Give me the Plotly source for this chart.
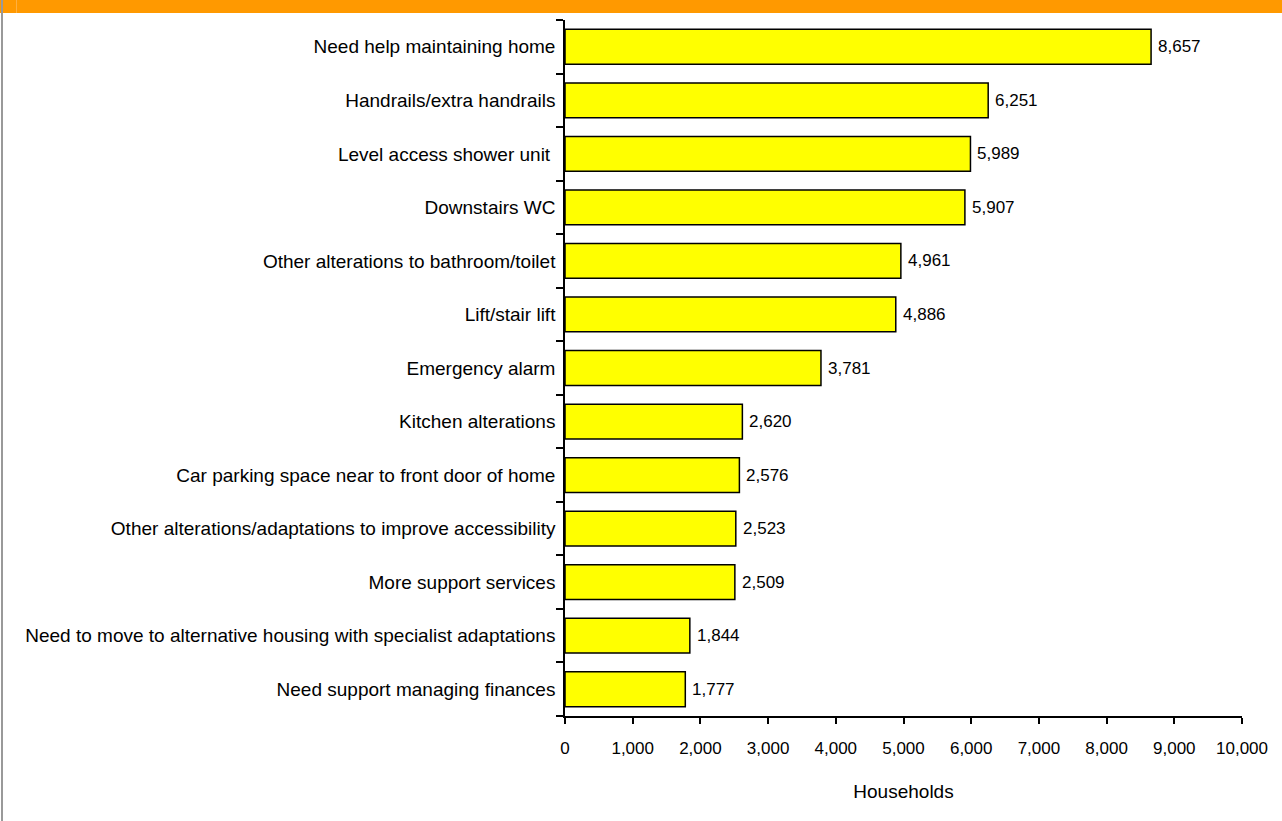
import plotly.graph_objects as go

categories = [
    "Need help maintaining home",
    "Handrails/extra handrails",
    "Level access shower unit ",
    "Downstairs WC",
    "Other alterations to bathroom/toilet",
    "Lift/stair lift",
    "Emergency alarm",
    "Kitchen alterations",
    "Car parking space near to front door of home",
    "Other alterations/adaptations to improve accessibility",
    "More support services",
    "Need to move to alternative housing with specialist adaptations",
    "Need support managing finances",
]
values = [8657, 6251, 5989, 5907, 4961, 4886, 3781, 2620, 2576, 2523, 2509, 1844, 1777]
x_ticks = [0, 1000, 2000, 3000, 4000, 5000, 6000, 7000, 8000, 9000, 10000]
x_tick_labels = [f"{v:,}" for v in x_ticks]

FONT = "Liberation Sans, Arial, sans-serif"

fig = go.Figure(
    go.Bar(
        y=categories,
        x=values,
        orientation="h",
        width=0.65,
        marker=dict(color="#FFFF00", line=dict(color="black", width=1.5)),
        hoverinfo="x+y",
    )
)

# value labels next to the bar ends
for c, v in zip(categories, values):
    fig.add_annotation(
        x=v, y=c, xref="x", yref="y",
        text=f"{v:,}", showarrow=False,
        xanchor="left", yanchor="middle", xshift=5,
        font=dict(family=FONT, size=17, color="black"),
    )

W, H = 1282, 821
L, R, T, B = 565, 40, 20, 105
pw, ph = W - L - R, H - T - B

fig.update_layout(
    width=W,
    height=H,
    margin=dict(l=L, r=R, t=T, b=B, pad=0),
    paper_bgcolor="white",
    plot_bgcolor="white",
    showlegend=False,
    font=dict(family=FONT, size=17, color="black"),
    xaxis=dict(
        range=[0, 10000],
        tickvals=x_ticks,
        ticktext=x_tick_labels,
        ticks="outside",
        ticklen=6,
        tickwidth=1.5,
        tickcolor="black",
        showline=True,
        linecolor="black",
        linewidth=1.5,
        showgrid=False,
        zeroline=False,
        tickfont=dict(size=17, color="black"),
        ticklabelstandoff=10,
        title=dict(text="Households", font=dict(size=19, color="black"), standoff=28),
    ),
    yaxis=dict(
        categoryorder="array",
        categoryarray=categories[::-1],
        range=[-0.5, len(categories) - 0.5],
        tickson="boundaries",
        ticks="outside",
        ticklen=7,
        tickwidth=1.5,
        tickcolor="black",
        showline=True,
        linecolor="black",
        linewidth=1.5,
        showgrid=False,
        zeroline=False,
        tickfont=dict(size=19, color="black"),
        ticklabelstandoff=4,
    ),
    shapes=[
        dict(
            type="rect", xref="paper", yref="paper",
            x0=-L / pw, x1=(W - L) / pw,
            y0=1 + (T - 13) / ph, y1=1 + T / ph,
            fillcolor="#FF9900", line=dict(width=0), layer="above",
        ),
        dict(
            type="rect", xref="paper", yref="paper",
            x0=(-L + 16) / pw, x1=(-L + 17) / pw,
            y0=1 + (T - 13) / ph, y1=1 + T / ph,
            fillcolor="#FFB040", line=dict(width=0), layer="above",
        ),
        dict(
            type="rect", xref="paper", yref="paper",
            x0=(-L + 1) / pw, x1=(-L + 3) / pw,
            y0=-B / ph, y1=1 + T / ph,
            fillcolor="#999999", line=dict(width=0), layer="above",
        ),
    ],
)

fig.write_html(
    "out.html",
    config={"displayModeBar": False},
    post_script="document.body.style.margin='0';",
)
